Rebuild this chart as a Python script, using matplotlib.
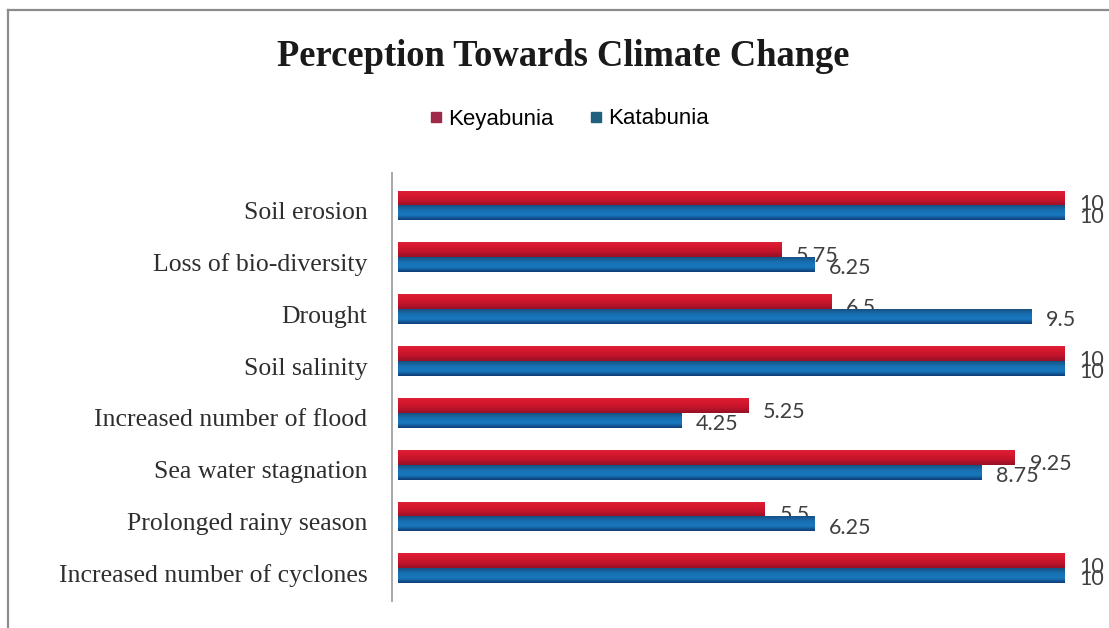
import matplotlib
matplotlib.use("Agg")
import matplotlib.pyplot as plt
from matplotlib.lines import Line2D
from matplotlib.transforms import ScaledTranslation
import numpy as np

categories = [
    "Soil erosion",
    "Loss of bio-diversity",
    "Drought",
    "Soil salinity",
    "Increased number of flood",
    "Sea water stagnation",
    "Prolonged rainy season",
    "Increased number of cyclones",
]
keyabunia = [10, 5.75, 6.5, 10, 5.25, 9.25, 5.5, 10]
katabunia = [10, 6.25, 9.5, 10, 4.25, 8.75, 6.25, 10]
series_names = ["Keyabunia", "Katabunia"]

label_grey = "#3f3f3f"

W, H = 1109, 628
fig = plt.figure(figsize=(W / 100, H / 100), dpi=100)
fig.patch.set_facecolor("white")

# chart frame: top and left edges
fig.add_artist(Line2D([8 / W, 1.0], [1 - 10 / H, 1 - 10 / H], transform=fig.transFigure,
                      color="#8c8c8c", linewidth=1.6))
fig.add_artist(Line2D([8 / W, 8 / W], [0.0, 1 - 10 / H], transform=fig.transFigure,
                      color="#8c8c8c", linewidth=1.6))

ax = fig.add_axes([398 / W, 1 - 594.4 / H, (1065 - 398) / W, (594.4 - 179.6) / H])

for s in ["top", "right", "bottom"]:
    ax.spines[s].set_visible(False)
ax.spines["left"].set_color("#a8a8a8")
ax.spines["left"].set_linewidth(1.4)
ax.spines["left"].set_position(("outward", 4))
ax.spines["left"].set_bounds(-0.62, 7.62)

y = np.arange(len(categories))
h = 0.285
red_bars = ax.barh(y - h / 2, keyabunia, height=h, color="#cf1b34", linewidth=0,
                   zorder=3, label=series_names[0])
blue_bars = ax.barh(y + h / 2, katabunia, height=h, color="#176fae", linewidth=0,
                    zorder=5, label=series_names[1])

# vertical shading inside each bar (top -> bottom)
red_grad = np.array([[222, 30, 52], [212, 24, 46], [190, 20, 42], [150, 16, 38]]) / 255
blue_grad = np.array([[24, 80, 130], [22, 112, 178], [26, 120, 190], [14, 62, 120]]) / 255

def shade(bars, colors, z):
    n = 40
    t = np.linspace(0, 1, n)
    xp = np.linspace(0, 1, len(colors))
    rgb = np.stack([np.interp(t, xp, colors[:, k]) for k in range(3)], axis=1)
    img = rgb[:, None, :]
    for p in bars:
        x0, y0 = p.get_x(), p.get_y()
        w, hh = p.get_width(), p.get_height()
        ax.imshow(img, extent=(x0, x0 + w, y0 + hh, y0), origin="upper",
                  aspect="auto", interpolation="bilinear", zorder=z, clip_on=True)

shade(red_bars, red_grad, 3.1)
shade(blue_bars, blue_grad, 5.1)

ax.set_xlim(0, 10)
ax.set_ylim(len(categories) - 0.5, -0.5)

ax.set_yticks(y)
ax.set_yticklabels(categories, fontfamily="Liberation Serif", fontsize=18.5, color="#2e2e2e")
ax.tick_params(axis="y", length=0, pad=18)
ax.set_xticks([])
# category names sit a little below the group centre
shift = ScaledTranslation(0, -5 / 100, fig.dpi_scale_trans)
for lab in ax.get_yticklabels():
    lab.set_transform(lab.get_transform() + shift)

def fmt(v):
    return f"{v:g}"

# value labels; red labels sit beneath the blue bars
for i, (a, b) in enumerate(zip(keyabunia, katabunia)):
    ax.annotate(fmt(a), (a, i - h / 2 + 0.12), xytext=(10.5, 0), textcoords="offset points",
                va="center", ha="left", fontsize=15.5, color=label_grey,
                fontfamily="Lato", zorder=4, annotation_clip=False)
    ax.annotate(fmt(b), (b, i + h / 2 + 0.07), xytext=(10, 0), textcoords="offset points",
                va="center", ha="left", fontsize=15.5, color=label_grey,
                fontfamily="Lato", zorder=6, annotation_clip=False)

fig.text(563 / W, 1 - 57 / H, "Perception Towards Climate Change",
         ha="center", va="center", fontfamily="Liberation Serif",
         fontweight="bold", fontsize=26.3, color="#1a1a1a")

handles = [Line2D([], [], marker="s", linestyle="none", markersize=6.5,
                  markerfacecolor="#9c2a48", markeredgecolor="#9c2a48"),
           Line2D([], [], marker="s", linestyle="none", markersize=6.5,
                  markerfacecolor="#21607e", markeredgecolor="#21607e")]
fig.legend(handles, series_names, loc="center", bbox_to_anchor=(568 / W, 1 - 119 / H),
           ncol=2, frameon=False, handletextpad=0.15, columnspacing=1.5,
           handlelength=0.8, prop={"family": "Liberation Sans", "size": 16})

fig.savefig("out.png", dpi=100, facecolor="white")
